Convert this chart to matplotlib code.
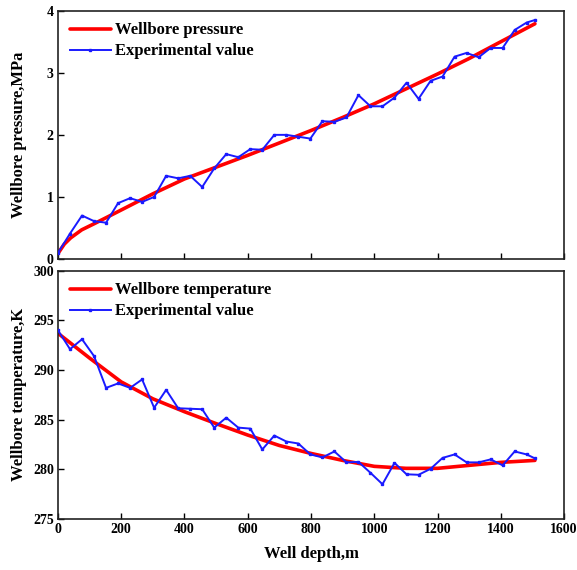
import matplotlib
matplotlib.use("Agg")
import matplotlib.pyplot as plt

# ---- data ----
depth_exp = [0, 38, 76, 114, 152, 190, 228, 266, 304, 342, 380, 418, 456, 494, 532,
             570, 608, 646, 684, 722, 760, 798, 836, 874, 912, 950, 988, 1026, 1064,
             1102, 1140, 1178, 1216, 1254, 1292, 1330, 1368, 1406, 1444, 1482, 1508]

pressure_exp = [0.10, 0.41, 0.70, 0.61, 0.585, 0.90, 0.98, 0.92, 1.00, 1.34, 1.30,
                1.34, 1.16, 1.46, 1.69, 1.64, 1.77, 1.76, 2.00, 2.00, 1.97, 1.94,
                2.22, 2.21, 2.28, 2.64, 2.46, 2.46, 2.60, 2.84, 2.58, 2.87, 2.94,
                3.26, 3.32, 3.25, 3.40, 3.40, 3.69, 3.81, 3.85]

temperature_exp = [294.0, 292.1, 293.1, 291.4, 288.2, 288.65, 288.2, 289.05, 286.2,
                   288.0, 286.15, 286.1, 286.05, 284.2, 285.2, 284.2, 284.1, 282.0,
                   283.4, 282.8, 282.6, 281.5, 281.2, 281.8, 280.7, 280.75, 279.65,
                   278.5, 280.65, 279.5, 279.45, 280.05, 281.15, 281.5, 280.7, 280.7,
                   281.0, 280.4, 281.8, 281.5, 281.1]

depth_p_model = [0, 20, 40, 75, 115, 150, 200, 250, 300, 400, 500, 600, 700, 800,
                 900, 1000, 1100, 1200, 1300, 1400, 1508]
pressure_model = [0.09, 0.24, 0.34, 0.47, 0.57, 0.66, 0.79, 0.92, 1.05, 1.29, 1.48,
                  1.67, 1.87, 2.07, 2.28, 2.50, 2.74, 2.98, 3.23, 3.50, 3.79]

depth_t_model = [0, 100, 200, 300, 400, 500, 600, 700, 800, 900, 1000, 1100, 1200,
                 1300, 1400, 1508]
temperature_model = [293.7, 291.2, 288.8, 287.1, 285.8, 284.6, 283.45, 282.4, 281.6,
                     280.9, 280.3, 280.1, 280.1, 280.4, 280.7, 280.9]

x_ticks = [0, 200, 400, 600, 800, 1000, 1200, 1400, 1600]
p_ticks = [0, 1, 2, 3, 4]
t_ticks = [275, 280, 285, 290, 295, 300]

plt.rcParams['font.family'] = ['Liberation Serif', 'DejaVu Serif']
plt.rcParams['font.weight'] = 'bold'

fig = plt.figure(figsize=(5.77, 5.70), dpi=100)
ax1 = fig.add_axes([0.1005, 0.5456, 0.877, 0.4356])
ax2 = fig.add_axes([0.1005, 0.0895, 0.877, 0.4356])

red = '#ff0000'
blue = '#1a1aff'

ax1.plot(depth_p_model, pressure_model, color=red, lw=2.6, label='Wellbore pressure',
         solid_capstyle='round', zorder=2)
ax1.plot(depth_exp, pressure_exp, color=blue, lw=1.4, marker='s', ms=1.6,
         label='Experimental value', zorder=3)
ax2.plot(depth_t_model, temperature_model, color=red, lw=2.6, label='Wellbore temperature',
         solid_capstyle='round', zorder=2)
ax2.plot(depth_exp, temperature_exp, color=blue, lw=1.4, marker='s', ms=1.6,
         label='Experimental value', zorder=3)

ax1.set_xlim(0, 1600)
ax1.set_ylim(0, 4)
ax1.set_xticks(x_ticks)
ax1.set_xticklabels([])
ax1.set_yticks(p_ticks)

ax2.set_xlim(0, 1600)
ax2.set_ylim(275, 300)
ax2.set_xticks(x_ticks)
ax2.set_yticks(t_ticks)
ax2.set_xlabel('Well depth,m', fontsize=12, fontweight='bold', labelpad=7)

for ax in (ax1, ax2):
    ax.tick_params(direction='in', length=4, width=1, labelsize=10, pad=3)
    for s in ax.spines.values():
        s.set_linewidth(1.2)
        s.set_color('#222222')
    for lab in ax.get_xticklabels() + ax.get_yticklabels():
        lab.set_fontweight('bold')
    ax.legend(loc='upper left', frameon=False, handlelength=2.5,
              handletextpad=0.2, labelspacing=0.3, borderaxespad=0.3,
              prop={'weight': 'bold', 'size': 12})

ax1.set_ylabel('Wellbore pressure,MPa', fontsize=12, fontweight='bold')
ax2.set_ylabel('Wellbore temperature,K', fontsize=12, fontweight='bold')
ax1.yaxis.set_label_coords(-0.062, 0.5)
ax2.yaxis.set_label_coords(-0.062, 0.5)

fig.savefig('out.png', dpi=100)
